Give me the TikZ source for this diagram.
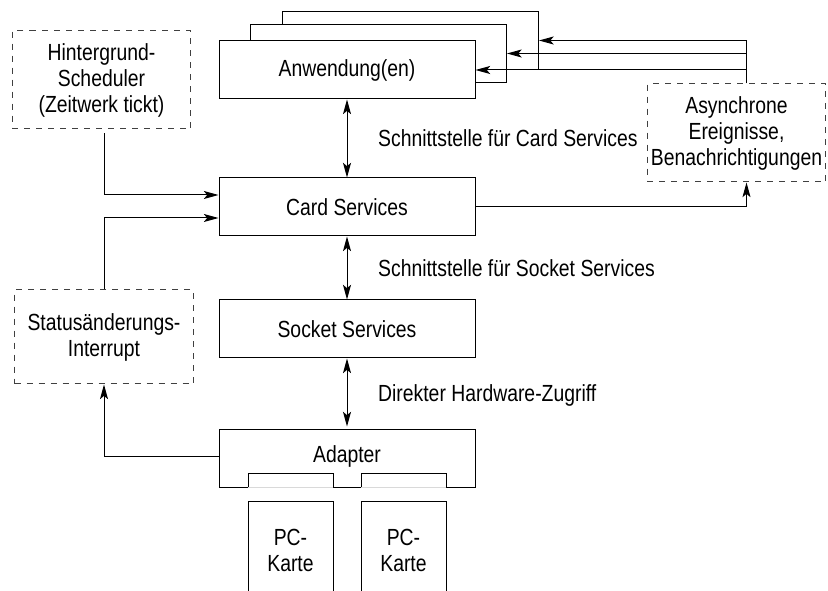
\documentclass[tikz,border=0pt]{standalone}
\usepackage{fontspec}
\setmainfont{Liberation Sans}[FakeStretch=0.83]
\usetikzlibrary{arrows.meta}

\begin{document}
\begin{tikzpicture}[x=0.75pt,y=-0.75pt,>={Stealth[length=11pt,width=6pt,inset=2.5pt]},
  line width=0.75pt,font=\fontsize{17.5}{19.5}\selectfont,
  block node/.style={rectangle,draw,fill=white,minimum width=192pt,minimum height=43.5pt,inner sep=0pt},
  event node/.style={rectangle,draw=black!75,dash pattern=on 4.5pt off 4.5pt,align=center,
    minimum width=134pt,minimum height=73.5pt,inner sep=0pt},
  iface label/.style={anchor=west,xshift=23pt,inner sep=0pt}]
  \useasboundingbox (0,0) rectangle (828,591);

  % stacked applications
  \node[block node] (app3) at (410.5,40.5) {};
  \node[block node] (app2) at (378.5,53.5) {};
  \node[block node] (app) at (347,70) {Anwendung(en)};
  \node[block node] (card) at (347,207) {Card Services};
  \node[block node] (socket) at (347,329) {Socket Services};
  \node[minimum width=192pt,minimum height=43.5pt,inner sep=0pt] (adapter) at (347,456) {Adapter};
  \draw (219,487) -- (219,429) -- (475,429) -- (475,487) -- (446,487) -- (446,473) -- (361,473)
    -- (361,487) -- (333,487) -- (333,473) -- (248,473) -- (248,487) -- cycle;
  \draw[black!15] (248,487) -- (333,487) (361,487) -- (446,487);
  \foreach \x/\n in {290.5/1,403.5/2} {
    \draw (\x-42.5,591) -- (\x-42.5,501) -- (\x+42.5,501) -- (\x+42.5,591);
    \node[align=center] (karte\n) at (\x,550) {PC-\\Karte};
  }

  \node[event node] (sched) at (101.5,80) {Hintergrund-\\Scheduler\\(Zeitwerk tickt)};
  \node[event node] (async) at (736.5,133) {Asynchrone\\Ereignisse,\\Benachrichtigungen};
  \node[event node,minimum height=70.5pt] (status) at (104,337) {Statusänderungs-\\Interrupt};

  \path[<->]
    (app) edge node[iface label] {Schnittstelle für Card Services} (card)
    (card) edge node[iface label] {Schnittstelle für Socket Services} (socket)
    (socket) edge node[iface label,yshift=-2pt] {Direkter Hardware-Zugriff} (adapter);

  \draw[->] ([xshift=2pt,yshift=-3pt]sched.south) |- ([yshift=9pt]card.west);
  \draw[->] (status.north) |- ([yshift=-8.25pt]card.west);
  \draw[->] (adapter.west) -| (status.south);
  \draw[->] (card.east) -| ([xshift=7.5pt]async.south);
  \coordinate (tap) at ([xshift=7.5pt]async.north);
  \draw[->] (tap) |- (app3.east);
  \draw[->] (tap |- app2.east) -- (app2.east);
  \draw[->] (tap |- app.east) -- (app.east);
\end{tikzpicture}
\end{document}
